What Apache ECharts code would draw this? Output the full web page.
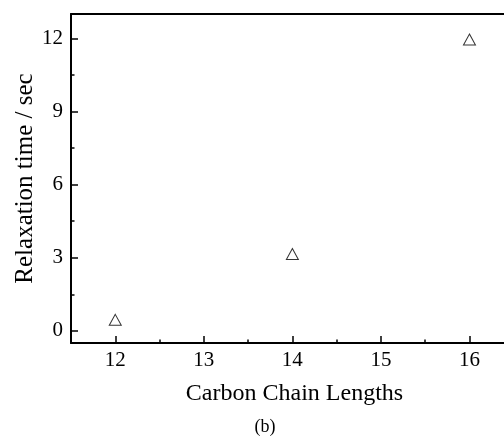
<!DOCTYPE html>
<html>
<head>
<meta charset="utf-8">
<script src="https://cdn.jsdelivr.net/npm/echarts@6/dist/echarts.min.js"></script>
<style>html,body{margin:0;padding:0;background:#fff}#c{width:504px;height:436px}</style>
</head>
<body>
<div id="c"></div>
<script>
var chainLengths = [12, 14, 16];
var relaxationTimes = [0.45, 3.15, 11.95];
var xMajorTicks = [12, 13, 14, 15, 16];
var xMinorTicks = [12.5, 13.5, 14.5, 15.5];
var yMajorTicks = [0, 3, 6, 9, 12];
var yMinorTicks = [1.5, 4.5, 7.5, 10.5];

var font = '"Liberation Serif", "Times New Roman", serif';
var chart = echarts.init(document.getElementById('c'), null, {renderer: 'canvas'});
var lineStyle = {color: '#000', width: 2};
var xMin = 11.5, xMax = 16.39, yMin = -0.5, yMax = 13;
chart.setOption({
  animation: false,
  backgroundColor: '#fff',
  grid: {left: 71, top: 14, right: 0, bottom: 93, containLabel: false, outerBoundsMode: 'none'},
  xAxis: [
    {
      type: 'value', min: xMin, max: xMax, position: 'bottom',
      name: 'Carbon Chain Lengths', nameLocation: 'middle', nameGap: 39, nameMoveOverlap: false,
      nameTextStyle: {fontFamily: font, fontSize: 24, color: '#000', padding: [0, 0, 0, 14]},
      axisLine: {show: true, onZero: false, lineStyle: lineStyle},
      axisTick: {show: true, inside: true, length: 7, customValues: xMajorTicks, lineStyle: {color: '#000', width: 1.5}},
      axisLabel: {customValues: xMajorTicks, fontFamily: font, fontSize: 21, color: '#000', margin: 7},
      splitLine: {show: false}
    },
    {
      type: 'value', min: xMin, max: xMax, position: 'bottom',
      axisLine: {show: false, onZero: false},
      axisTick: {show: true, inside: true, length: 3.5, customValues: xMinorTicks, lineStyle: {color: '#000', width: 1.5}},
      axisLabel: {show: false},
      splitLine: {show: false}
    },
    {
      type: 'value', min: xMin, max: xMax, position: 'top',
      axisLine: {show: true, onZero: false, lineStyle: lineStyle},
      axisTick: {show: false},
      axisLabel: {show: false},
      splitLine: {show: false}
    }
  ],
  yAxis: [
    {
      type: 'value', min: yMin, max: yMax, position: 'left',
      name: 'Relaxation time / sec', nameLocation: 'middle', nameGap: 33, nameMoveOverlap: false,
      nameTextStyle: {fontFamily: font, fontSize: 25, color: '#000'},
      axisLine: {show: true, onZero: false, lineStyle: lineStyle},
      axisTick: {show: true, inside: true, length: 7, customValues: yMajorTicks, lineStyle: {color: '#000', width: 1.5}},
      axisLabel: {customValues: yMajorTicks, fontFamily: font, fontSize: 21, color: '#000', margin: 8},
      splitLine: {show: false}
    },
    {
      type: 'value', min: yMin, max: yMax, position: 'left',
      axisLine: {show: false, onZero: false},
      axisTick: {show: true, inside: true, length: 3.5, customValues: yMinorTicks, lineStyle: {color: '#000', width: 1.5}},
      axisLabel: {show: false},
      splitLine: {show: false}
    }
  ],
  graphic: [{
    type: 'text', x: 265, y: 427,
    style: {text: '(b)', fontFamily: font, fontSize: 18, fill: '#000', textAlign: 'center', textVerticalAlign: 'middle'}
  }],
  series: [{
    type: 'scatter',
    xAxisIndex: 0, yAxisIndex: 0,
    symbol: 'triangle', symbolSize: [12, 11],
    itemStyle: {color: '#fff', borderColor: '#000', borderWidth: 1},
    data: chainLengths.map(function (x, i) { return [x, relaxationTimes[i]]; })
  }]
});
</script>
</body>
</html>
